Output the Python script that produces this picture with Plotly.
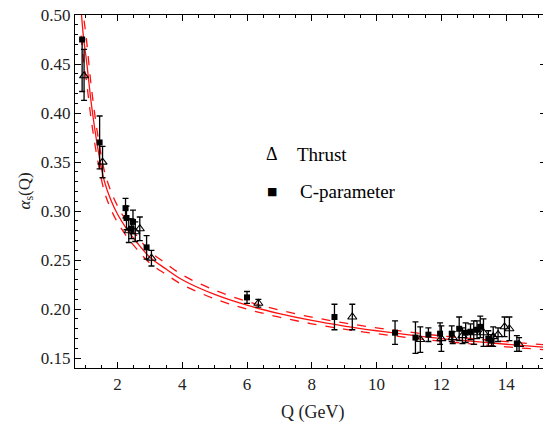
import plotly.graph_objects as go

# theory curve
q_curve = [0.88, 0.95, 1.05, 1.2, 1.4, 1.6, 1.8, 2.0, 2.3, 2.6, 3.0, 3.5, 4.0, 5.0,
           6.0, 7.0, 8.0, 9.0, 10.0, 11.0, 12.0, 13.0, 14.0, 15.3]
a_central = [0.505, 0.478, 0.452, 0.408, 0.363, 0.330, 0.311, 0.297, 0.281, 0.268, 0.253,
             0.241, 0.230, 0.215, 0.204, 0.1955, 0.1885, 0.1828, 0.178, 0.1738, 0.170,
             0.1671, 0.1642, 0.1609]
a_upper = [0.531, 0.501, 0.473, 0.425, 0.376, 0.3405, 0.3202, 0.3054, 0.2885, 0.2748, 0.2591,
           0.2465, 0.235, 0.2194, 0.208, 0.1991, 0.1919, 0.186, 0.181, 0.1767, 0.1727,
           0.1698, 0.1668, 0.1634]
a_lower = [0.479, 0.455, 0.431, 0.391, 0.350, 0.3195, 0.3018, 0.2886, 0.2735, 0.2612, 0.2469,
           0.2355, 0.225, 0.2106, 0.200, 0.1919, 0.1851, 0.1796, 0.175, 0.1709, 0.1673,
           0.1644, 0.1616, 0.1584]

# C-parameter data
c_q = [0.91, 1.45, 2.25, 2.28, 2.48, 2.43, 2.90, 6.0, 8.7, 10.57, 11.2, 11.6, 11.96, 12.32,
       12.55, 12.75, 12.9, 13.1, 13.2, 13.45, 13.55, 14.33]
c_a = [0.475, 0.370, 0.303, 0.293, 0.289, 0.282, 0.263, 0.212, 0.192, 0.176, 0.171, 0.174,
       0.175, 0.175, 0.180, 0.176, 0.177, 0.179, 0.182, 0.170, 0.168, 0.165]
c_err_up = [0.0, 0.027, 0.010, 0.012, 0.012, 0.010, 0.012, 0.006, 0.013, 0.012, 0.016, 0.007,
            0.011, 0.008, 0.012, 0.010, 0.008, 0.009, 0.011, 0.008, 0.006, 0.008]
c_err_dn = [0.053, 0.027, 0.010, 0.012, 0.012, 0.010, 0.012, 0.006, 0.013, 0.012, 0.016, 0.007,
            0.011, 0.008, 0.012, 0.010, 0.008, 0.009, 0.011, 0.008, 0.006, 0.008]

# Thrust data
t_q = [0.97, 1.54, 2.35, 2.55, 2.69, 3.05, 6.35, 9.25, 11.35, 12.0, 12.35, 12.65, 13.0,
       13.3, 13.6, 13.75, 13.95, 14.1, 14.4]
t_a = [0.438, 0.350, 0.280, 0.279, 0.282, 0.252, 0.206, 0.192, 0.169, 0.170, 0.171, 0.173,
       0.176, 0.176, 0.172, 0.174, 0.182, 0.180, 0.164]
t_err_up = [0.027, 0.016, 0.012, 0.010, 0.012, 0.008, 0.004, 0.013, 0.013, 0.013, 0.006,
            0.008, 0.012, 0.014, 0.010, 0.007, 0.010, 0.012, 0.007]
t_err_dn = [0.025, 0.016, 0.012, 0.010, 0.012, 0.008, 0.004, 0.013, 0.013, 0.013, 0.006,
            0.008, 0.012, 0.014, 0.010, 0.007, 0.010, 0.012, 0.007]

x_ticks = [2, 4, 6, 8, 10, 12, 14]
y_ticks = [0.15, 0.20, 0.25, 0.30, 0.35, 0.40, 0.45, 0.50]

RED = "#ff1010"
FONT = "Liberation Serif"

fig = go.Figure()
for arr, dash in [(a_upper, "dash"), (a_lower, "dash"), (a_central, "solid")]:
    fig.add_trace(go.Scatter(x=q_curve, y=arr, mode="lines",
                             line=dict(color=RED, width=1.3, dash=dash, shape="spline", smoothing=1.0),
                             showlegend=False, hoverinfo="skip"))

fig.add_trace(go.Scatter(
    x=t_q, y=t_a, mode="markers",
    marker=dict(symbol="triangle-up-open", size=8, color="black", line=dict(width=1.1, color="black")),
    error_y=dict(type="data", array=t_err_up, arrayminus=t_err_dn, symmetric=False,
                 color="black", thickness=1.3, width=3),
    showlegend=False))
fig.add_trace(go.Scatter(
    x=c_q, y=c_a, mode="markers",
    marker=dict(symbol="square", size=6, color="black"),
    error_y=dict(type="data", array=c_err_up, arrayminus=c_err_dn, symmetric=False,
                 color="black", thickness=1.3, width=3),
    showlegend=False))

# legend as text
fig.add_annotation(x=6.76, y=0.358, text="Δ", showarrow=False, xanchor="center", yanchor="middle",
                   font=dict(family=FONT, size=18, color="black"))
fig.add_annotation(x=7.48, y=0.358, text="Thrust", showarrow=False, xanchor="left", yanchor="middle",
                   font=dict(family=FONT, size=19, color="black"))
fig.add_annotation(x=6.77, y=0.320, text="■", showarrow=False, xanchor="center", yanchor="middle",
                   font=dict(family="DejaVu Sans", size=11, color="black"))
fig.add_annotation(x=7.57, y=0.320, text="C-parameter", showarrow=False, xanchor="left", yanchor="middle",
                   font=dict(family=FONT, size=19, color="black"))

# axis titles
fig.add_annotation(xref="paper", yref="paper", x=0.505, y=0, yshift=-44, text="Q (GeV)",
                   showarrow=False, xanchor="center", yanchor="middle",
                   font=dict(family=FONT, size=18, color="#222"))
fig.add_annotation(xref="paper", yref="paper", x=0, y=0.5, xshift=-50, textangle=-90,
                   text="<i>α</i><sub>s</sub>(Q)", showarrow=False, xanchor="center", yanchor="middle",
                   font=dict(family=FONT, size=17, color="#222"))

axis_common = dict(showline=True, linecolor="black", linewidth=1.2, mirror="ticks",
                   ticks="inside", ticklen=6, tickwidth=1, tickcolor="black",
                   showgrid=False, zeroline=False, automargin=False,
                   ticklabeloverflow="allow",
                   tickfont=dict(family=FONT, size=17, color="#222"))
fig.update_xaxes(range=[0.69, 15.23], tickvals=x_ticks, ticktext=[str(v) for v in x_ticks],
                 minor=dict(dtick=0.5, tick0=0, ticks="inside", ticklen=3, tickcolor="black", showgrid=False),
                 **axis_common)
fig.update_yaxes(range=[0.14, 0.50], tickvals=y_ticks, ticktext=["%.2f" % v for v in y_ticks],
                 minor=dict(dtick=0.01, tick0=0, ticks="inside", ticklen=3, tickcolor="black", showgrid=False),
                 **axis_common)

fig.update_layout(width=543, height=418, margin=dict(l=67, r=5, t=7, b=58),
                  paper_bgcolor="white", plot_bgcolor="white", showlegend=False)

fig.write_html("out.html")
